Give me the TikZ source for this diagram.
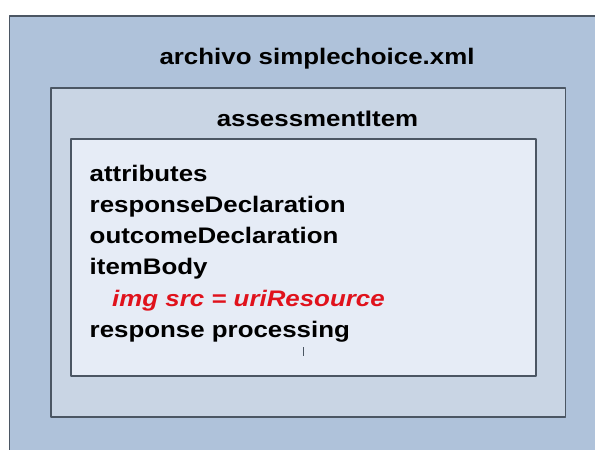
\documentclass[tikz,border=0pt]{standalone}
\usepackage{fontspec}
\setmainfont[FakeStretch=1.15]{Liberation Sans}
\definecolor{outerblue}{HTML}{AFC2DA}
\definecolor{midblue}{HTML}{C9D5E4}
\definecolor{innerblue}{HTML}{E6ECF6}
\definecolor{edgegray}{HTML}{4B5663}
\definecolor{srcred}{HTML}{E0121C}
\tikzset{
  box/.style={draw=edgegray, line width=1.2pt},
  label/.style={inner sep=0pt, font=\bfseries\fontsize{22.5}{31}\selectfont}
}
\begin{document}
\begin{tikzpicture}[x=1pt, y=-1pt, line join=round]
  \useasboundingbox (0,0) rectangle (595,450);
  \clip (0,0) rectangle (595,450);
  \path (9.5,16) coordinate (O1) (620,470) coordinate (O2)
        (51,88) coordinate (M1) (565.5,417) coordinate (M2)
        (71,139) coordinate (I1) (536,376) coordinate (I2);
  \fill[white] (0,0) rectangle (595,450);
  \filldraw[box, fill=outerblue] (O1) rectangle (O2);
  \filldraw[box, fill=midblue] (M1) rectangle (M2);
  \filldraw[box, fill=innerblue] (I1) rectangle (I2);
  \node[label, anchor=base] (file) at (317,64) {archivo simplechoice.xml};
  \node[label, anchor=base] (item) at (317.5,126) {assessmentItem};
  \foreach \n/\yy/\txt in {attr/181/attributes, resp/212/responseDeclaration,
      outc/243/outcomeDeclaration, body/274/itemBody, proc/337/response processing}
    \node[label, anchor=base west] (\n) at (89.5,\yy) {\txt};
  \node[label, anchor=base west, text=srcred, font=\bfseries\itshape\fontsize{22.5}{31}\selectfont]
    (img) at (112,306) {img src = uriResource};
  \draw[edgegray, line width=1pt] (303.5,347) -- (303.5,356);
\end{tikzpicture}
\end{document}
